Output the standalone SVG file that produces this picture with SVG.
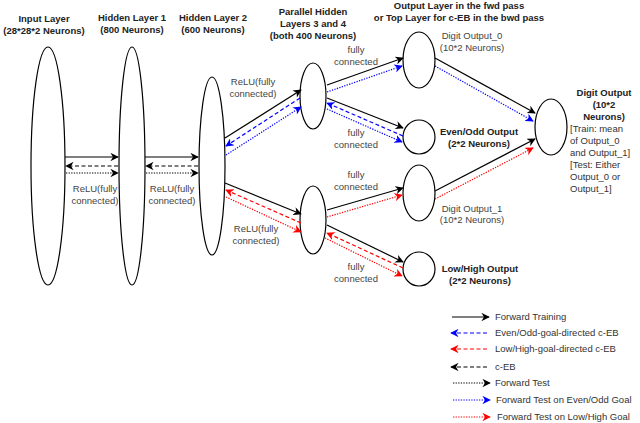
<svg xmlns="http://www.w3.org/2000/svg" width="640" height="423" viewBox="0 0 640 423">
<style>
.n{fill:#fff;stroke:#000;stroke-width:1.2}
text{font-family:"Liberation Sans",Arial,sans-serif;font-size:9.5px;text-anchor:middle}
.b{font-weight:bold;fill:#222}
.g{fill:#444}
.l{text-anchor:start;fill:#333}
.s{fill:none;stroke:#000;stroke-width:1.2}
.k{stroke:#000}.u{stroke:#00f}.r{stroke:#f00}
.da{fill:none;stroke-width:1.2;stroke-dasharray:4,2.5}
.do{fill:none;stroke-width:1.2;stroke-dasharray:1.3,1.3}
</style>
<defs>
<marker id="ak" viewBox="0 0 10 10" refX="9" refY="5" markerWidth="7" markerHeight="7" orient="auto-start-reverse"><path d="M0,0L10,5L0,10L3,5z" fill="#000"/></marker>
<marker id="au" viewBox="0 0 10 10" refX="9" refY="5" markerWidth="7" markerHeight="7" orient="auto-start-reverse"><path d="M0,0L10,5L0,10L3,5z" fill="#00f"/></marker>
<marker id="ar" viewBox="0 0 10 10" refX="9" refY="5" markerWidth="7" markerHeight="7" orient="auto-start-reverse"><path d="M0,0L10,5L0,10L3,5z" fill="#f00"/></marker>
</defs>
<g id="input"><ellipse class="n" cx="48" cy="166" rx="17" ry="119"/><text class="b" x="44" y="22">Input Layer</text><text class="b" x="44" y="34">(28*28*2 Neurons)</text></g>
<g id="h1"><ellipse class="n" cx="132" cy="166" rx="13" ry="119"/><text class="b" x="132" y="21">Hidden Layer 1</text><text class="b" x="132" y="33">(800 Neurons)</text></g>
<g id="h2"><ellipse class="n" cx="212" cy="166" rx="13" ry="89"/><text class="b" x="213" y="21">Hidden Layer 2</text><text class="b" x="213" y="33">(600 Neurons)</text></g>
<g id="h3"><ellipse class="n" cx="313" cy="96" rx="13" ry="33"/><text class="b" x="313" y="15">Parallel Hidden</text><text class="b" x="313" y="27">Layers 3 and 4</text><text class="b" x="313" y="39">(both 400 Neurons)</text></g>
<g id="h4"><ellipse class="n" cx="313" cy="220" rx="13" ry="34"/></g>
<g id="d0"><ellipse class="n" cx="419" cy="60" rx="16" ry="28"/><text class="g" x="472" y="39">Digit Output_0</text><text class="g" x="472" y="51">(10*2 Neurons)</text></g>
<g id="eo"><ellipse class="n" cx="419" cy="137" rx="16" ry="17"/><text class="b" x="479" y="135">Even/Odd Output</text><text class="b" x="479" y="147">(2*2 Neurons)</text></g>
<g id="d1"><ellipse class="n" cx="419" cy="193" rx="16" ry="28"/><text class="g" x="472" y="212">Digit Output_1</text><text class="g" x="472" y="223">(10*2 Neurons)</text></g>
<g id="lh"><ellipse class="n" cx="419" cy="269" rx="16" ry="17"/><text class="b" x="480" y="272">Low/High Output</text><text class="b" x="480" y="284">(2*2 Neurons)</text></g>
<g id="out"><ellipse class="n" cx="551" cy="127" rx="16" ry="28"/>
<text class="b" x="604" y="96">Digit Output</text><text class="b" x="604" y="108">(10*2</text><text class="b" x="604" y="120">Neurons)</text>
<text class="l" x="570" y="132">[Train: mean</text><text class="l" x="570" y="144">of Output_0</text><text class="l" x="570" y="156">and Output_1]</text><text class="l" x="570" y="168">[Test: Either</text><text class="l" x="570" y="180">Output_0 or</text><text class="l" x="570" y="192">Output_1]</text></g>
<text class="b" x="459" y="9">Output Layer in the fwd pass</text>
<text class="b" x="459" y="21">or Top Layer for c-EB in the bwd pass</text>
<g id="labels">
<text class="g" x="95" y="192">ReLU(fully</text><text class="g" x="95" y="204">connected)</text>
<text class="g" x="172" y="192">ReLU(fully</text><text class="g" x="172" y="204">connected)</text>
<text class="g" x="253" y="85">ReLU(fully</text><text class="g" x="253" y="97">connected)</text>
<text class="g" x="256" y="232">ReLU(fully</text><text class="g" x="256" y="244">connected)</text>
<text class="g" x="356" y="53">fully</text><text class="g" x="356" y="65">connected</text>
<text class="g" x="356" y="136">fully</text><text class="g" x="356" y="148">connected</text>
<text class="g" x="356" y="178">fully</text><text class="g" x="356" y="190">connected</text>
<text class="g" x="356" y="270">fully</text><text class="g" x="356" y="282">connected</text>
</g>
<g id="connectors">
<line class="s" x1="65" y1="157" x2="118" y2="157" marker-end="url(#ak)"/>
<line class="da k" x1="118" y1="166" x2="66" y2="166" marker-end="url(#ak)"/>
<line class="do k" x1="66" y1="173" x2="118" y2="173" marker-end="url(#ak)"/>
<line class="s" x1="145" y1="157" x2="198" y2="157" marker-end="url(#ak)"/>
<line class="da k" x1="198" y1="166" x2="146" y2="166" marker-end="url(#ak)"/>
<line class="do k" x1="146" y1="173" x2="198" y2="173" marker-end="url(#ak)"/>
<line class="s" x1="225" y1="138" x2="301" y2="90" marker-end="url(#ak)"/>
<line class="da u" x1="300" y1="98" x2="226" y2="146" marker-end="url(#au)"/>
<line class="do u" x1="226" y1="155" x2="301" y2="107" marker-end="url(#au)"/>
<line class="s" x1="225" y1="183" x2="301" y2="214" marker-end="url(#ak)"/>
<line class="da r" x1="301" y1="223" x2="226" y2="190" marker-end="url(#ar)"/>
<line class="do r" x1="226" y1="197" x2="301" y2="232" marker-end="url(#ar)"/>
<line class="s" x1="327" y1="85" x2="403" y2="58" marker-end="url(#ak)"/>
<line class="do u" x1="327" y1="92" x2="402" y2="66" marker-end="url(#au)"/>
<line class="s" x1="327" y1="98" x2="403" y2="128" marker-end="url(#ak)"/>
<line class="da u" x1="403" y1="136" x2="327" y2="103" marker-end="url(#au)"/>
<line class="do u" x1="327" y1="109" x2="402" y2="142" marker-end="url(#au)"/>
<line class="s" x1="327" y1="210" x2="403" y2="188" marker-end="url(#ak)"/>
<line class="do r" x1="327" y1="217" x2="402" y2="195" marker-end="url(#ar)"/>
<line class="s" x1="327" y1="225" x2="403" y2="262" marker-end="url(#ak)"/>
<line class="da r" x1="403" y1="268" x2="327" y2="233" marker-end="url(#ar)"/>
<line class="do r" x1="325" y1="238" x2="402" y2="276" marker-end="url(#ar)"/>
<line class="s" x1="435" y1="58" x2="535" y2="113" marker-end="url(#ak)"/>
<line class="do u" x1="435" y1="66" x2="533" y2="121" marker-end="url(#au)"/>
<line class="s" x1="435" y1="191" x2="535" y2="139" marker-end="url(#ak)"/>
<line class="do r" x1="435" y1="199" x2="533" y2="148" marker-end="url(#ar)"/>
</g>
<g id="legend">
<line class="s" x1="452" y1="317" x2="489" y2="317" marker-end="url(#ak)"/><text class="l" x="495" y="320">Forward Training</text>
<line class="da u" x1="487" y1="333" x2="451" y2="333" marker-end="url(#au)"/><text class="l" x="495" y="336">Even/Odd-goal-directed c-EB</text>
<line class="da r" x1="487" y1="349" x2="451" y2="349" marker-end="url(#ar)"/><text class="l" x="495" y="352">Low/High-goal-directed c-EB</text>
<line class="da k" x1="487" y1="367" x2="451" y2="367" marker-end="url(#ak)"/><text class="l" x="495" y="370">c-EB</text>
<line class="do k" x1="453" y1="383" x2="490" y2="383" marker-end="url(#ak)"/><text class="l" x="495" y="386">Forward Test</text>
<line class="do u" x1="453" y1="400" x2="490" y2="400" marker-end="url(#au)"/><text class="l" x="496" y="403">Forward Test on Even/Odd Goal</text>
<line class="do r" x1="453" y1="417" x2="490" y2="417" marker-end="url(#ar)"/><text class="l" x="497" y="420">Forward Test on Low/High Goal</text>
</g>
</svg>
